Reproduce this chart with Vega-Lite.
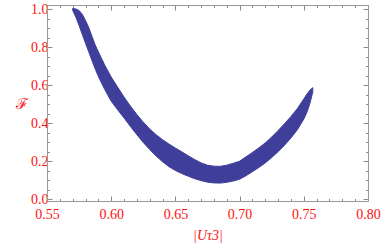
{
  "$schema": "https://vega.github.io/schema/vega-lite/v6.json",
  "width": 321,
  "height": 196,
  "autosize": {"type": "none"},
  "padding": {"left": 47, "top": 5, "right": 14, "bottom": 46},
  "background": "white",
  "config": {
    "view": {"stroke": "#9a9a9a", "strokeWidth": 1},
    "axis": {
      "grid": false,
      "domainColor": "#9a9a9a",
      "tickColor": "#8a8a8a",
      "labelFont": "Liberation Serif",
      "labelFontSize": 14,
      "labelColor": "#ff1010",
      "titleFont": "Liberation Serif, DejaVu Serif",
      "titleFontSize": 14,
      "titleFontWeight": "normal",
      "titleColor": "#ff1010",
      "labelOverlap": false,
      "labelBound": false,
      "labelFlush": false
    }
  },
  "data": {
    "values": [
      {"x": 0.570, "lo": 0.993, "hi": 1.003},
      {"x": 0.5725, "lo": 0.957, "hi": 1.000},
      {"x": 0.575, "lo": 0.913, "hi": 0.992},
      {"x": 0.5775, "lo": 0.866, "hi": 0.972},
      {"x": 0.580, "lo": 0.820, "hi": 0.940},
      {"x": 0.5825, "lo": 0.775, "hi": 0.903},
      {"x": 0.585, "lo": 0.730, "hi": 0.857},
      {"x": 0.5875, "lo": 0.686, "hi": 0.812},
      {"x": 0.590, "lo": 0.646, "hi": 0.775},
      {"x": 0.5925, "lo": 0.611, "hi": 0.740},
      {"x": 0.595, "lo": 0.577, "hi": 0.705},
      {"x": 0.600, "lo": 0.516, "hi": 0.643},
      {"x": 0.605, "lo": 0.471, "hi": 0.590},
      {"x": 0.610, "lo": 0.428, "hi": 0.538},
      {"x": 0.615, "lo": 0.383, "hi": 0.490},
      {"x": 0.620, "lo": 0.340, "hi": 0.446},
      {"x": 0.625, "lo": 0.299, "hi": 0.406},
      {"x": 0.630, "lo": 0.262, "hi": 0.370},
      {"x": 0.635, "lo": 0.228, "hi": 0.340},
      {"x": 0.640, "lo": 0.198, "hi": 0.314},
      {"x": 0.645, "lo": 0.172, "hi": 0.291},
      {"x": 0.650, "lo": 0.152, "hi": 0.270},
      {"x": 0.655, "lo": 0.136, "hi": 0.250},
      {"x": 0.660, "lo": 0.122, "hi": 0.229},
      {"x": 0.665, "lo": 0.109, "hi": 0.210},
      {"x": 0.670, "lo": 0.099, "hi": 0.192},
      {"x": 0.675, "lo": 0.091, "hi": 0.180},
      {"x": 0.680, "lo": 0.087, "hi": 0.175},
      {"x": 0.685, "lo": 0.086, "hi": 0.174},
      {"x": 0.690, "lo": 0.090, "hi": 0.180},
      {"x": 0.695, "lo": 0.097, "hi": 0.190},
      {"x": 0.700, "lo": 0.106, "hi": 0.201},
      {"x": 0.705, "lo": 0.125, "hi": 0.224},
      {"x": 0.710, "lo": 0.146, "hi": 0.247},
      {"x": 0.715, "lo": 0.168, "hi": 0.271},
      {"x": 0.720, "lo": 0.192, "hi": 0.297},
      {"x": 0.725, "lo": 0.220, "hi": 0.328},
      {"x": 0.730, "lo": 0.251, "hi": 0.362},
      {"x": 0.735, "lo": 0.285, "hi": 0.398},
      {"x": 0.740, "lo": 0.323, "hi": 0.436},
      {"x": 0.745, "lo": 0.366, "hi": 0.477},
      {"x": 0.750, "lo": 0.422, "hi": 0.528},
      {"x": 0.7525, "lo": 0.459, "hi": 0.554},
      {"x": 0.755, "lo": 0.510, "hi": 0.576},
      {"x": 0.757, "lo": 0.565, "hi": 0.587}
    ]
  },
  "layer": [
    {
      "mark": {"type": "area", "color": "#3f3f9b", "stroke": "#3f3f9b", "strokeWidth": 1, "strokeJoin": "round"},
      "encoding": {
        "x": {
          "field": "x", "type": "quantitative",
          "scale": {"domain": [0.55, 0.8], "nice": false, "zero": false},
          "axis": {
            "orient": "bottom",
            "title": "|Uτ3|",
            "titleFontStyle": "italic",
            "titlePadding": 5,
            "values": [0.55,0.56,0.57,0.58,0.59,0.60,0.61,0.62,0.63,0.64,0.65,0.66,0.67,0.68,0.69,0.70,0.71,0.72,0.73,0.74,0.75,0.76,0.77,0.78,0.79,0.80],
            "labelExpr": "abs(datum.value*20-round(datum.value*20))<0.000001 ? format(datum.value, '.2f') : ''",
            "tickSize": {"condition": {"test": "abs(datum.value*20-round(datum.value*20))<0.000001", "value": -5}, "value": -2.5},
            "labelPadding": 11
          }
        },
        "y": {
          "field": "lo", "type": "quantitative",
          "scale": {"domain": [-0.008, 1.021], "nice": false, "zero": false},
          "axis": {
            "orient": "left",
            "title": "ℱ",
            "titleAngle": 0,
            "titleFontSize": 15,
            "titleBaseline": "middle",
            "titlePadding": 9,
            "values": [0,0.05,0.1,0.15,0.2,0.25,0.3,0.35,0.4,0.45,0.5,0.55,0.6,0.65,0.7,0.75,0.8,0.85,0.9,0.95,1.0],
            "labelExpr": "abs(datum.value*5-round(datum.value*5))<0.000001 ? format(datum.value, '.1f') : ''",
            "tickSize": {"condition": {"test": "abs(datum.value*5-round(datum.value*5))<0.000001", "value": -5}, "value": -2.5},
            "labelPadding": 4
          }
        },
        "y2": {"field": "hi"}
      }
    },
    {
      "mark": {"type": "area", "opacity": 0},
      "encoding": {
        "x": {
          "field": "x", "type": "quantitative",
          "scale": {"domain": [0.55, 0.8], "nice": false, "zero": false},
          "axis": {
            "orient": "top",
            "title": null,
            "labels": false,
            "values": [0.55,0.56,0.57,0.58,0.59,0.60,0.61,0.62,0.63,0.64,0.65,0.66,0.67,0.68,0.69,0.70,0.71,0.72,0.73,0.74,0.75,0.76,0.77,0.78,0.79,0.80],
            "tickSize": {"condition": {"test": "abs(datum.value*20-round(datum.value*20))<0.000001", "value": -5}, "value": -2.5}
          }
        },
        "y": {
          "field": "lo", "type": "quantitative",
          "scale": {"domain": [-0.008, 1.021], "nice": false, "zero": false},
          "axis": {
            "orient": "right",
            "title": null,
            "labels": false,
            "values": [0,0.05,0.1,0.15,0.2,0.25,0.3,0.35,0.4,0.45,0.5,0.55,0.6,0.65,0.7,0.75,0.8,0.85,0.9,0.95,1.0],
            "tickSize": {"condition": {"test": "abs(datum.value*5-round(datum.value*5))<0.000001", "value": -5}, "value": -2.5}
          }
        }
      }
    }
  ],
  "resolve": {"axis": {"x": "independent", "y": "independent"}}
}
